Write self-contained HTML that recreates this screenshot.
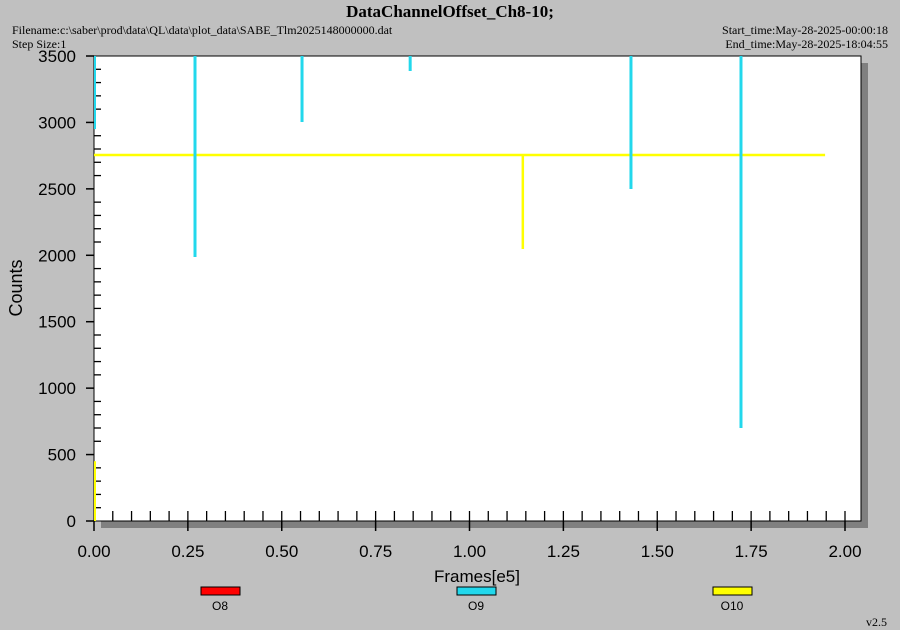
<!DOCTYPE html>
<html><head><meta charset="utf-8"><style>
body{margin:0;background:#c0c0c0;}
svg{display:block;}
.s{font-family:"Liberation Serif",serif;font-size:12px;fill:#000;}
.a{font-family:"Liberation Sans",sans-serif;fill:#000;}
</style></head><body>
<svg id="chart" width="900" height="630" xmlns="http://www.w3.org/2000/svg">
<rect width="900" height="630" fill="#c0c0c0"/>
<text x="450" y="17" text-anchor="middle" style="font-family:'Liberation Serif',serif;font-weight:bold;font-size:17px">DataChannelOffset_Ch8-10;</text>
<text class="s" x="12" y="34">Filename:c:\saber\prod\data\QL\data\plot_data\SABE_Tlm2025148000000.dat</text>
<text class="s" x="12" y="48">Step Size:1</text>
<text class="s" x="888" y="34" text-anchor="end">Start_time:May-28-2025-00:00:18</text>
<text class="s" x="888" y="48" text-anchor="end">End_time:May-28-2025-18:04:55</text>
<rect x="101" y="63" width="767" height="465" fill="#808080"/>
<rect x="94" y="56" width="767" height="465" fill="#fff" stroke="#000" stroke-width="1"/>
<g id="axes"></g>
<g id="series"></g>
<text class="a" x="22" y="288" font-size="18" text-anchor="middle" transform="rotate(-90 22 288)">Counts</text>
<text class="a" x="477" y="582" font-size="17" text-anchor="middle">Frames[e5]</text>
<g>
<g><rect x="201" y="587" width="39" height="8" fill="#ff0000" stroke="#000"/><text class="a" x="220" y="610" font-size="12" text-anchor="middle">O8</text></g>
<g><rect x="457" y="587" width="39" height="8" fill="#22d8ec" stroke="#000"/><text class="a" x="476" y="610" font-size="12" text-anchor="middle">O9</text></g>
<g><rect x="713" y="587" width="39" height="8" fill="#ffff00" stroke="#000"/><text class="a" x="732" y="610" font-size="12" text-anchor="middle">O10</text></g>
</g>
<text class="s" x="887" y="626" text-anchor="end">v2.5</text>
</svg>
<script>
const xTicks=[0,0.25,0.5,0.75,1.0,1.25,1.5,1.75,2.0];
const xTickLabels=["0.00","0.25","0.50","0.75","1.00","1.25","1.50","1.75","2.00"];
const yTicks=[0,500,1000,1500,2000,2500,3000,3500];
const o10Level=2755;
const o10LineEnd=1.947;
const o10SpikeX=[1.142];
const o10SpikeLow=[2047];
const o9SpikeX=[0.269,0.554,0.842,1.430,1.723];
const o9SpikeLow=[1987,3003,3387,2499,700];
const NS="http://www.w3.org/2000/svg";
const X=v=>94+v*375.5, Y=v=>521-v*(465/3500);
const ax=document.getElementById('axes'), se=document.getElementById('series');
function ln(p,x1,y1,x2,y2,c,w){const l=document.createElementNS(NS,'line');l.setAttribute('x1',x1);l.setAttribute('y1',y1);l.setAttribute('x2',x2);l.setAttribute('y2',y2);l.setAttribute('stroke',c);l.setAttribute('stroke-width',w);p.appendChild(l);return l;}
// minor x ticks
for(let i=1;i<=41;i++){const v=i*0.05;if(X(v)>858)break;const l=ln(ax,X(v),511,X(v),521,'#000',1.3);

}
xTicks.forEach((v,i)=>{const l=ln(ax,X(v),521,X(v),531,'#000',1.5);


const t=document.createElementNS(NS,'text');t.setAttribute('x',X(v));t.setAttribute('y',557);t.setAttribute('class','a');t.setAttribute('font-size','17');t.setAttribute('text-anchor','middle');t.textContent=xTickLabels[i];


ax.appendChild(t);});
for(let v=100;v<3500;v+=100){if(v%500===0)continue;const l=ln(ax,94,Y(v),101,Y(v),'#000',1.3);

}
yTicks.forEach(v=>{const l=ln(ax,86,Y(v),94,Y(v),'#000',1.5);


const t=document.createElementNS(NS,'text');t.setAttribute('x',76);t.setAttribute('y',Y(v)+6);t.setAttribute('class','a');t.setAttribute('font-size','17');t.setAttribute('text-anchor','end');t.textContent=v;


ax.appendChild(t);});
// O10 series
let l=ln(se,X(0),Y(o10Level),X(o10LineEnd),Y(o10Level),'#ffff00',2.5);


l=ln(se,X(0)+1,Y(0),X(0)+1,Y(450),'#ffff00',2);


o10SpikeX.forEach((x,i)=>{const s=ln(se,X(x),Y(o10Level),X(x),Y(o10SpikeLow[i]),'#ffff00',2.5);

});
// O9 series
l=ln(se,X(0)+1,Y(3500),X(0)+1,Y(2950),'#22d8ec',2);


o9SpikeX.forEach((x,i)=>{const s=ln(se,X(x),Y(3500),X(x),Y(o9SpikeLow[i]),'#22d8ec',3);

});
</script>
</body></html>
